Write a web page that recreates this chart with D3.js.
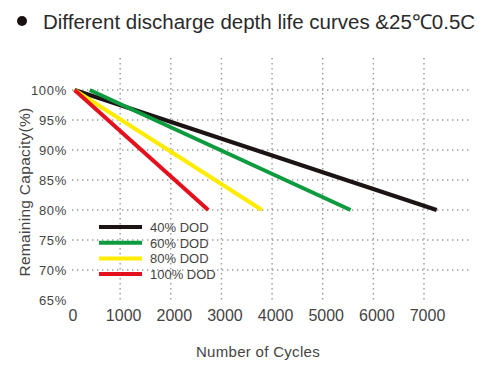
<!DOCTYPE html>
<html>
<head>
<meta charset="utf-8">
<script src="https://cdn.jsdelivr.net/npm/d3@7"></script>
<style>
  body { margin: 0; background: #fff; }
  text { font-family: "Liberation Sans", Arial, sans-serif; }
</style>
</head>
<body>
<div id="chart"></div>
<script>
// data
var seriesNames = ["40% DOD", "60% DOD", "80% DOD", "100% DOD"];
var seriesColors = ["#1c1414", "#0e9a3e", "#ffec00", "#e3101e"];
var cycles40 = [100, 7250];
var capacity40 = [100, 80];
var cycles60 = [400, 5550];
var capacity60 = [100, 80];
var cycles80 = [100, 3800];
var capacity80 = [100, 80];
var cycles100 = [100, 2740];
var capacity100 = [100, 80];
var xTicks = [0, 1000, 2000, 3000, 4000, 5000, 6000, 7000];
var yTicks = [65, 70, 75, 80, 85, 90, 95, 100];

var w = 500;
var h = 375;

var allSeries = [
    {name: seriesNames[0], color: seriesColors[0], x: cycles40, y: capacity40},
    {name: seriesNames[1], color: seriesColors[1], x: cycles60, y: capacity60},
    {name: seriesNames[2], color: seriesColors[2], x: cycles80, y: capacity80},
    {name: seriesNames[3], color: seriesColors[3], x: cycles100, y: capacity100}
];

var xScale = d3.scaleLinear()
                .domain([0, 7000])
                .range([69.5, 424]);

var yScale = d3.scaleLinear()
                .domain([65, 100])
                .range([300, 90]);

var svg = d3.select("#chart")
            .append("svg")
            .attr("width", w)
            .attr("height", h);

// title with bullet
svg.append("circle")
    .attr("cx", 22)
    .attr("cy", 21)
    .attr("r", 5)
    .attr("fill", "#1a1212");
svg.append("text")
    .attr("x", 43)
    .attr("y", 29)
    .attr("font-size", 20.5)
    .attr("fill", "#2a2a2a")
    .text("Different discharge depth life curves &25\u21030.5C");

// dotted grid
var gridColor = "#9a9a9a";
svg.append("g")
    .selectAll("line.v")
    .data(xTicks.slice(1))
    .enter()
    .append("line")
    .attr("x1", function(d) { return xScale(d); })
    .attr("x2", function(d) { return xScale(d); })
    .attr("y1", 58)
    .attr("y2", 300)
    .attr("stroke", gridColor)
    .attr("stroke-width", 1.4)
    .attr("stroke-dasharray", "1.4,3.6");

svg.append("g")
    .selectAll("line.h")
    .data(yTicks.slice(1))
    .enter()
    .append("line")
    .attr("x1", 72)
    .attr("x2", 472)
    .attr("y1", function(d) { return yScale(d); })
    .attr("y2", function(d) { return yScale(d); })
    .attr("stroke", gridColor)
    .attr("stroke-width", 1.4)
    .attr("stroke-dasharray", "1.4,3.6");

// axes (labels only)
var yAxis = d3.axisLeft(yScale)
                .tickValues(yTicks)
                .tickSize(0)
                .tickPadding(0)
                .tickFormat(function(d) { return d + "%"; });
var gy = svg.append("g")
    .attr("transform", "translate(67,0)")
    .call(yAxis);
gy.select(".domain").remove();
gy.selectAll("text")
    .attr("font-size", 13)
    .attr("letter-spacing", 0.7)
    .attr("font-family", "Liberation Sans, Arial, sans-serif")
    .attr("fill", "#444");

var xAxis = d3.axisBottom(xScale)
                .tickValues(xTicks)
                .tickSize(0)
                .tickPadding(0)
                .tickFormat(d3.format("d"));
var gx = svg.append("g")
    .attr("transform", "translate(3,310)")
    .call(xAxis);
gx.select(".domain").remove();
gx.selectAll("text")
    .attr("font-size", 16)
    .attr("font-family", "Liberation Sans, Arial, sans-serif")
    .attr("fill", "#444");

// axis titles
svg.append("text")
    .attr("x", 258)
    .attr("y", 357)
    .attr("text-anchor", "middle")
    .attr("font-size", 15)
    .attr("letter-spacing", 0.3)
    .attr("fill", "#444")
    .text("Number of Cycles");

svg.append("text")
    .attr("transform", "translate(30,192) rotate(-90)")
    .attr("text-anchor", "middle")
    .attr("font-size", 15.5)
    .attr("letter-spacing", 0.3)
    .attr("fill", "#444")
    .text("Remaining Capacity(%)");

// curves
var line = d3.line()
    .x(function(d) { return xScale(d[0]); })
    .y(function(d) { return yScale(d[1]); });

svg.append("g")
    .selectAll("path")
    .data(allSeries)
    .enter()
    .append("path")
    .attr("d", function(s) { return line(d3.zip(s.x, s.y)); })
    .attr("fill", "none")
    .attr("stroke", function(s) { return s.color; })
    .attr("stroke-width", 4);

// legend
var legend = svg.append("g")
    .selectAll("g")
    .data(allSeries)
    .enter()
    .append("g")
    .attr("transform", function(d, i) { return "translate(99," + (227 + i * 15.7) + ")"; });

legend.append("line")
    .attr("x1", 0)
    .attr("x2", 43)
    .attr("stroke", function(d) { return d.color; })
    .attr("stroke-width", 4);

legend.append("text")
    .attr("x", 51)
    .attr("y", 5)
    .attr("font-size", 13)
    .attr("fill", "#444")
    .text(function(d) { return d.name; });
</script>
</body>
</html>
